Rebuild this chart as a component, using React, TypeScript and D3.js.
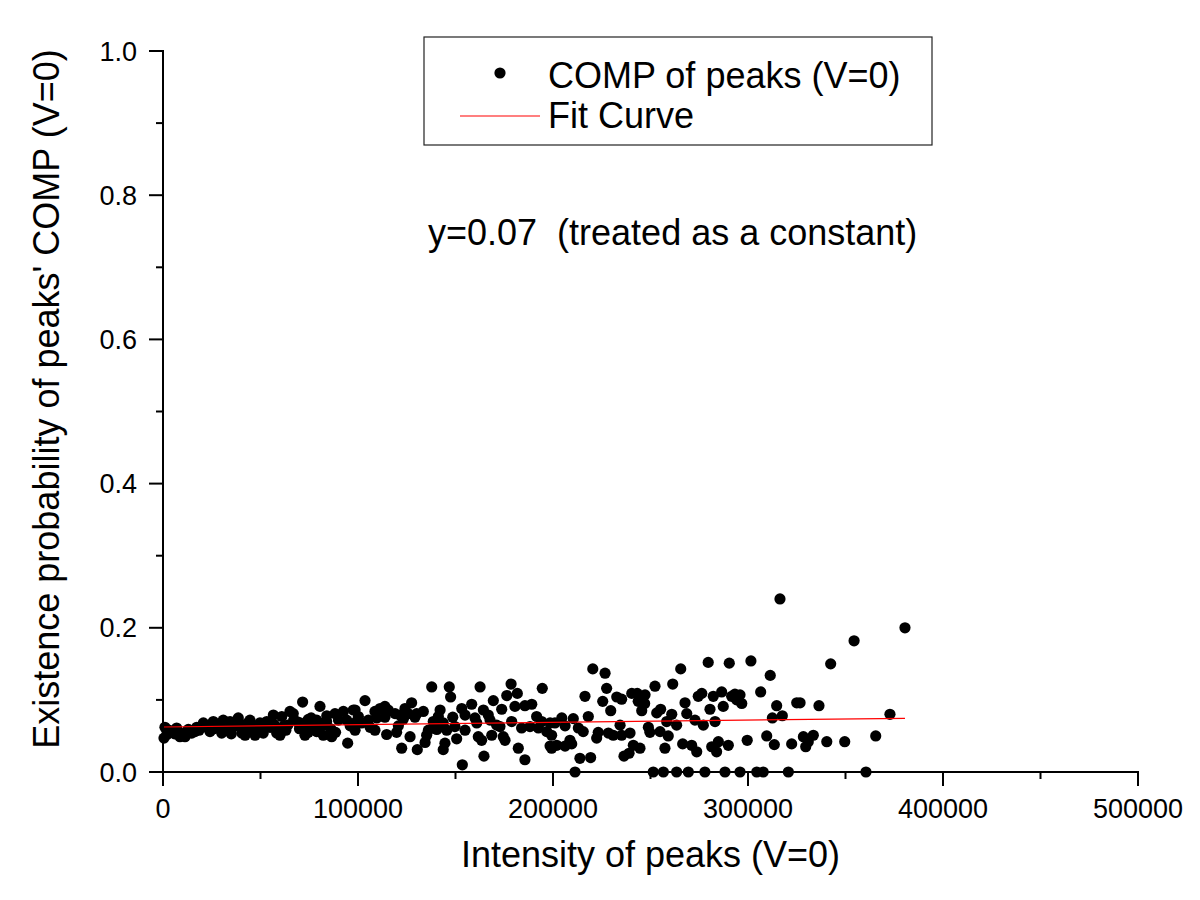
import React from "react";
import * as d3 from "d3";

// Intensity of peaks (V=0) vs existence probability of peaks' COMP (V=0)
const peaks: [number, number][] = [
  // dense band 0 - 100000
  [500, 0.047], [1000, 0.062], [2000, 0.052], [3000, 0.058], [5300, 0.056], [6000, 0.053],
  [7000, 0.061], [8700, 0.049], [9500, 0.052], [11300, 0.049], [12000, 0.056], [13000, 0.059],
  [14700, 0.054], [16400, 0.056], [17300, 0.062], [18500, 0.058], [20700, 0.068], [22400, 0.062],
  [24100, 0.056], [25800, 0.07], [26000, 0.06], [27500, 0.066], [29200, 0.062], [30100, 0.054],
  [30900, 0.072], [33000, 0.058], [34400, 0.07], [35000, 0.053], [36100, 0.063], [38600, 0.075],
  [39000, 0.065], [40400, 0.054], [42100, 0.061], [42100, 0.051], [43000, 0.067], [44600, 0.072],
  [45000, 0.058], [47200, 0.051], [48100, 0.063], [49700, 0.068], [50500, 0.056], [51400, 0.054],
  [52000, 0.062], [53200, 0.07], [54900, 0.062], [56600, 0.079], [57000, 0.066], [58300, 0.054],
  [60000, 0.051], [60900, 0.077], [61700, 0.063], [63000, 0.058], [64000, 0.065], [65100, 0.084],
  [66800, 0.081], [67000, 0.072], [68600, 0.07], [70000, 0.06], [70300, 0.068], [71600, 0.097],
  [72800, 0.051], [74500, 0.073], [74500, 0.055], [75000, 0.062], [76000, 0.075], [77100, 0.065],
  [78800, 0.072], [78800, 0.056], [80000, 0.068], [80500, 0.091], [82200, 0.065], [82200, 0.051],
  [83900, 0.07], [84000, 0.078], [86000, 0.06], [86500, 0.049], [88200, 0.081], [88500, 0.055],
  [90000, 0.072], [92500, 0.084], [94200, 0.072], [94700, 0.04], [96000, 0.064], [97600, 0.086],
  [98500, 0.086], [98500, 0.058], [99300, 0.07],
  // 100000 - 200000
  [100200, 0.077], [101900, 0.068], [103600, 0.099], [105300, 0.072], [106200, 0.062], [108700, 0.084],
  [108700, 0.058], [109600, 0.075], [111300, 0.088], [113800, 0.091], [113800, 0.076], [114700, 0.052],
  [115500, 0.086], [119000, 0.081], [119800, 0.055], [120700, 0.064], [121500, 0.079], [122400, 0.033],
  [123200, 0.073], [124100, 0.088], [125800, 0.081], [126700, 0.049], [127500, 0.096], [129200, 0.076],
  [130100, 0.081], [130400, 0.031], [133500, 0.084], [134400, 0.041], [135200, 0.051], [136100, 0.058],
  [137800, 0.118], [138600, 0.07], [140400, 0.059], [141200, 0.077], [142100, 0.086], [143700, 0.068],
  [143700, 0.031], [144600, 0.04], [145500, 0.058], [146800, 0.118], [147500, 0.104], [148600, 0.076],
  [149700, 0.063], [150600, 0.046], [153200, 0.088], [153500, 0.01], [154900, 0.079], [154900, 0.058],
  [158300, 0.094], [160000, 0.075], [160900, 0.068], [161700, 0.049], [162600, 0.118], [163400, 0.044],
  [164300, 0.086], [164600, 0.022], [166800, 0.079], [167700, 0.072], [168600, 0.051], [169400, 0.099],
  [171100, 0.065], [172800, 0.063], [173700, 0.087], [174500, 0.049], [175400, 0.044], [176300, 0.106],
  [178500, 0.122], [178800, 0.07], [180500, 0.091], [181700, 0.109], [182200, 0.033], [183900, 0.061],
  [185600, 0.092], [185600, 0.017], [188200, 0.063], [189100, 0.094], [191600, 0.077], [192500, 0.061],
  [194200, 0.07], [194500, 0.116], [196800, 0.056], [198500, 0.068], [198500, 0.036], [199300, 0.051],
  [199300, 0.033],
  // 200000 - 300000
  [201000, 0.068], [201900, 0.037], [204500, 0.075], [206200, 0.064], [206200, 0.036], [208700, 0.044],
  [209600, 0.039], [210400, 0.074], [211300, 0.0], [213000, 0.061], [213800, 0.019], [215500, 0.056],
  [216400, 0.105], [218100, 0.077], [219300, 0.02], [220400, 0.143], [222400, 0.047], [223200, 0.055],
  [225500, 0.098], [226700, 0.137], [227500, 0.116], [228400, 0.054], [229600, 0.085], [230900, 0.051],
  [232700, 0.104], [234400, 0.065], [235200, 0.101], [235200, 0.051], [236400, 0.022], [239000, 0.026],
  [239500, 0.054], [240400, 0.109], [241200, 0.037], [243200, 0.109], [243700, 0.098], [244600, 0.033],
  [245500, 0.085], [247000, 0.095], [247200, 0.107], [248900, 0.062], [249700, 0.055], [251400, 0.0],
  [252300, 0.119], [253200, 0.082], [254900, 0.056], [255200, 0.087], [256600, 0.0], [257400, 0.033],
  [258300, 0.07], [259100, 0.05], [260900, 0.08], [261400, 0.122], [263400, 0.065], [263400, 0.0],
  [265500, 0.143], [266500, 0.039], [267700, 0.096], [268600, 0.081], [269400, 0.0], [271100, 0.037],
  [272800, 0.072], [273700, 0.028], [274500, 0.105], [276300, 0.109], [277100, 0.065], [277900, 0.0],
  [279600, 0.152], [280500, 0.087], [281400, 0.035], [282200, 0.105], [283100, 0.07], [283900, 0.028],
  [284800, 0.042], [286500, 0.111], [287300, 0.091], [288200, 0.0], [289900, 0.037], [290400, 0.151],
  [291600, 0.105], [293300, 0.108], [294200, 0.1], [295900, 0.107], [295900, 0.0], [296800, 0.095],
  [299600, 0.044],
  // 300000 - 380000
  [301500, 0.154], [304500, 0.0], [306500, 0.111], [307800, 0.0], [309600, 0.05], [311400, 0.134],
  [312500, 0.075], [313500, 0.038], [314700, 0.092], [316400, 0.24], [317600, 0.078], [320700, 0.0],
  [322400, 0.039], [325000, 0.096], [326700, 0.096], [328400, 0.049], [329600, 0.035], [330900, 0.042],
  [333500, 0.051], [336400, 0.092], [340400, 0.042], [342400, 0.15], [349600, 0.042], [354400, 0.182],
  [360500, 0.0], [365500, 0.05], [372800, 0.08], [380500, 0.2],
];

// Linear fit curve endpoints
const fitX = [0, 380500];
const fitY = [0.0624, 0.0745];

const xMajorTicks = [0, 100000, 200000, 300000, 400000, 500000];
const xMinorTicks = [50000, 150000, 250000, 350000, 450000];
const yMajorTicks = [0, 0.2, 0.4, 0.6, 0.8, 1.0];
const yMinorTicks = [0.1, 0.3, 0.5, 0.7, 0.9];

const xTitle = "Intensity of peaks (V=0)";
const yTitle = "Existence probability of peaks' COMP (V=0)";
const legendDots = "COMP of peaks (V=0)";
const legendFit = "Fit Curve";
const annotation = "y=0.07  (treated as a constant)";

const FONT = "'Liberation Sans', Arial, Helvetica, sans-serif";

export default function App() {
  const left = 163, right = 1138, top = 51, bottom = 772;
  const x = d3.scaleLinear().domain([0, 500000]).range([left, right]);
  const y = d3.scaleLinear().domain([0, 1]).range([bottom, top]);
  const fmtY = d3.format(".1f");
  const fmtX = d3.format("d");
  const fitLine = d3
    .line<number>()
    .x((d, i) => x(fitX[i]))
    .y((d) => y(d));

  return (
    <svg
      width={1200}
      height={900}
      style={{ position: "absolute", left: 0, top: 0, background: "#fff" }}
      fontFamily={FONT}
    >
      <rect x={0} y={0} width={1200} height={900} fill="#fff" />
      {/* points */}
      <g>
        {peaks.map((p, i) => (
          <circle key={i} cx={x(p[0])} cy={y(p[1])} r={5.6} fill="#000" />
        ))}
      </g>
      {/* fit curve */}
      <path d={fitLine(fitY) || ""} fill="none" stroke="#ff0000" strokeWidth={1.2} />

      {/* axes */}
      <g stroke="#000" strokeWidth={2} fill="none">
        <line x1={left} x2={right + 1} y1={bottom} y2={bottom} />
        <line x1={left} x2={left} y1={top - 1} y2={bottom + 1} />
        {xMajorTicks.map((t) => (
          <line key={"xM" + t} x1={x(t)} x2={x(t)} y1={bottom} y2={bottom + 14} />
        ))}
        {xMinorTicks.map((t) => (
          <line key={"xm" + t} x1={x(t)} x2={x(t)} y1={bottom} y2={bottom + 7} />
        ))}
        {yMajorTicks.map((t) => (
          <line key={"yM" + t} x1={left - 14} x2={left} y1={y(t)} y2={y(t)} />
        ))}
        {yMinorTicks.map((t) => (
          <line key={"ym" + t} x1={left - 7} x2={left} y1={y(t)} y2={y(t)} />
        ))}
      </g>
      <g fontSize={27} fill="#000">
        {xMajorTicks.map((t) => (
          <text key={"xl" + t} x={x(t)} y={818} textAnchor="middle">
            {fmtX(t)}
          </text>
        ))}
        {yMajorTicks.map((t) => (
          <text key={"yl" + t} x={137} y={y(t) + 9.5} textAnchor="end">
            {fmtY(t)}
          </text>
        ))}
      </g>

      {/* axis titles */}
      <text x={(left + right) / 2} y={867} fontSize={36} textAnchor="middle" fill="#000">
        {xTitle}
      </text>
      <text
        transform={`translate(59, 399) rotate(-90)`}
        fontSize={36}
        textAnchor="middle"
        fill="#000"
      >
        {yTitle}
      </text>

      {/* legend */}
      <rect x={424} y={37} width={508} height={108} fill="#fff" stroke="#222" strokeWidth={1.2} />
      <circle cx={500} cy={73} r={5.6} fill="#000" />
      <text x={548} y={88} fontSize={36} fill="#000">
        {legendDots}
      </text>
      <line x1={460} x2={540} y1={116} y2={116} stroke="#ff0000" strokeWidth={1.2} />
      <text x={548} y={128} fontSize={36} fill="#000">
        {legendFit}
      </text>

      {/* annotation */}
      <text x={428} y={245} fontSize={36} fill="#000" style={{ whiteSpace: "pre" }} xmlSpace="preserve">
        {annotation}
      </text>
    </svg>
  );
}
